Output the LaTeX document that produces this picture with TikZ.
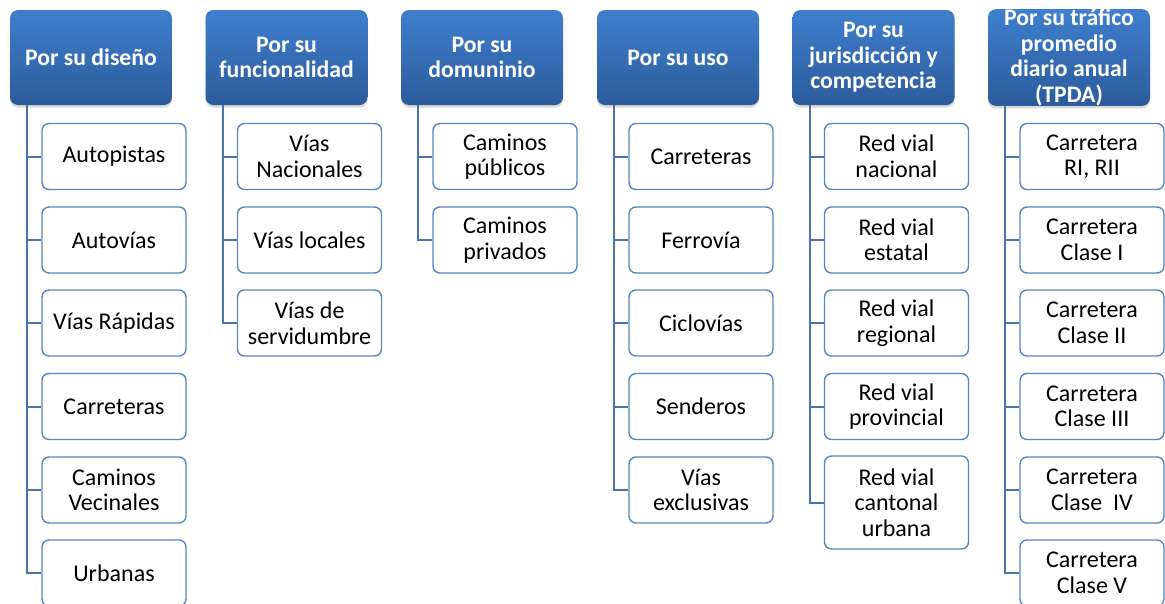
\documentclass[tikz,border=0pt]{standalone}
\usepackage{fontspec}
\setmainfont{Carlito}
\usetikzlibrary{shadows}

\definecolor{hdrtop}{HTML}{3F7FCD}
\definecolor{hdrbot}{HTML}{2C5B9C}
\definecolor{linkblue}{HTML}{4A74AC}
\definecolor{boxblue}{HTML}{5786C2}

\begin{document}
\begin{tikzpicture}[x=1pt, y=1pt,
    header/.style={rounded corners=8pt, top color=hdrtop, bottom color=hdrbot, draw=none,
        text=white, font=\fontsize{23.7}{25.5}\selectfont\bfseries, align=center,
        minimum width=162pt, minimum height=95pt, inner sep=0pt,
        drop shadow={shadow xshift=0pt, shadow yshift=-2.5pt, opacity=0.3}},
    item/.style={rounded corners=7pt, draw=boxblue, line width=1.4pt, fill=white,
        font=\fontsize{24}{25.5}\selectfont, align=center,
        minimum width=144pt, minimum height=66pt, inner sep=0pt},
    link/.style={draw=linkblue, line width=2pt}]
            \useasboundingbox (0,0) rectangle (1165,-603);

            % Headers
            \node[header] (h1) at (91,-57.5) {Por su diseño};
            \node[header] (h2) at (286.5,-57.5) {Por su\\funcionalidad};
            \node[header] (h3) at (482,-57.5) {Por su\\domuninio};
            \node[header] (h4) at (678,-57.5) {Por su uso};
            \node[header] (h5) at (873.5,-57.5) {Por su\\jurisdicción y\\competencia};
            \node[header] (h6) at (1069,-57.5) {Por su tráfico\\promedio\\diario anual\\(TPDA)};

            % Trunk starts under each header
            \coordinate (t1) at (27,-105);
            \coordinate (t2) at (222.5,-105);
            \coordinate (t3) at (418,-105);
            \coordinate (t4) at (614,-105);
            \coordinate (t5) at (809.5,-105);
            \coordinate (t6) at (1005,-105);

            % Por su diseño
            \node[item] (a1) at (114,-156.5) {Autopistas};
            \node[item] (a2) at (114,-240) {Autovías};
            \node[item] (a3) at (114,-323) {Vías Rápidas};
            \node[item] (a4) at (114,-406.5) {Carreteras};
            \node[item] (a5) at (114,-490) {Caminos\\Vecinales};
            \node[item] (a6) at (114,-573) {Urbanas};

            % Por su funcionalidad
            \node[item] (b1) at (309.5,-156.5) {Vías\\Nacionales};
            \node[item] (b2) at (309.5,-240) {Vías locales};
            \node[item] (b3) at (309.5,-323) {Vías de\\servidumbre};

            % Por su domuninio
            \node[item] (c1) at (505,-156.5) {Caminos\\públicos};
            \node[item] (c2) at (505,-240) {Caminos\\privados};

            % Por su uso
            \node[item] (d1) at (701,-156.5) {Carreteras};
            \node[item] (d2) at (701,-240) {Ferrovía};
            \node[item] (d3) at (701,-323) {Ciclovías};
            \node[item] (d4) at (701,-406.5) {Senderos};
            \node[item] (d5) at (701,-490) {Vías\\exclusivas};

            % Por su jurisdicción y competencia
            \node[item] (e1) at (896.5,-156.5) {Red vial\\nacional};
            \node[item] (e2) at (896.5,-240) {Red vial\\estatal};
            \node[item] (e3) at (896.5,-323) {Red vial\\regional};
            \node[item] (e4) at (896.5,-406.5) {Red vial\\provincial};
            \node[item, minimum height=93pt] (e5) at (896.5,-502.5) {Red vial\\cantonal\\urbana};

            % Por su tráfico promedio diario anual
            \node[item] (f1) at (1092,-156.5) {Carretera\\RI, RII};
            \node[item] (f2) at (1092,-240) {Carretera\\Clase I};
            \node[item] (f3) at (1092,-323) {Carretera\\Clase II};
            \node[item] (f4) at (1092,-406.5) {Carretera\\Clase III};
            \node[item] (f5) at (1092,-490) {Carretera\\Clase\ \ IV};
            \node[item] (f6) at (1092,-573) {Carretera\\Clase V};

            % Connectors
            \foreach \n in {a1,a2,a3,a4,a5,a6} \draw[link] (t1) |- (\n.west);
            \foreach \n in {b1,b2,b3} \draw[link] (t2) |- (\n.west);
            \foreach \n in {c1,c2} \draw[link] (t3) |- (\n.west);
            \foreach \n in {d1,d2,d3,d4,d5} \draw[link] (t4) |- (\n.west);
            \foreach \n in {e1,e2,e3,e4,e5} \draw[link] (t5) |- (\n.west);
            \foreach \n in {f1,f2,f3,f4,f5,f6} \draw[link] (t6) |- (\n.west);
        \end{tikzpicture}
\end{document}
